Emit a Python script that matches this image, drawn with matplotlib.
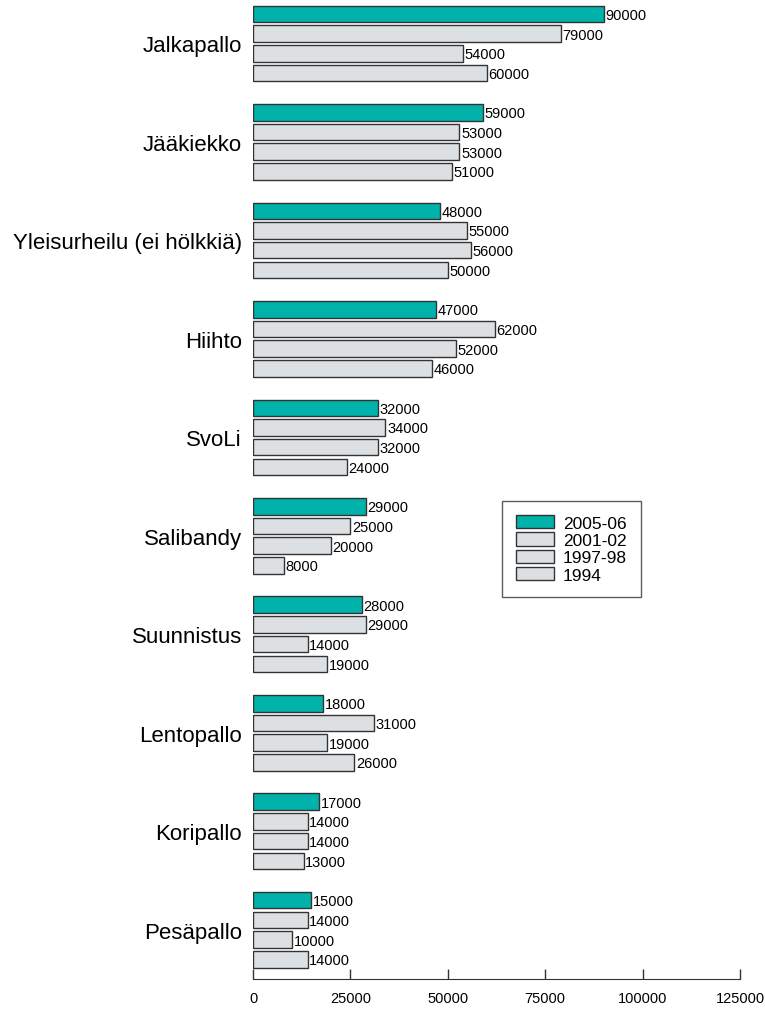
import matplotlib.pyplot as plt
import numpy as np

plt.rcParams['font.family'] = ['Liberation Sans', 'DejaVu Sans']

categories = ['Jalkapallo', 'Jääkiekko', 'Yleisurheilu (ei hölkkiä)', 'Hiihto', 'SvoLi',
              'Salibandy', 'Suunnistus', 'Lentopallo', 'Koripallo', 'Pesäpallo']
series = ['2005-06', '2001-02', '1997-98', '1994']
v2005 = [90000, 59000, 48000, 47000, 32000, 29000, 28000, 18000, 17000, 15000]
v2001 = [79000, 53000, 55000, 62000, 34000, 25000, 29000, 31000, 14000, 14000]
v1997 = [54000, 53000, 56000, 52000, 32000, 20000, 14000, 19000, 14000, 10000]
v1994 = [60000, 51000, 50000, 46000, 24000, 8000, 19000, 26000, 13000, 14000]
values = [v2005, v2001, v1997, v1994]
colors = ['#00b2a9', '#dde0e3', '#dde0e3', '#dde0e3']

fig = plt.figure(figsize=(7.65, 10.12), dpi=100)
ax = fig.add_axes([253 / 765, 1 - 980 / 1012, 487 / 765, 975 / 1012])

base = np.arange(len(categories)) * 5
for i, (s, vals, c) in enumerate(zip(series, values, colors)):
    y = base + i
    ax.barh(y, vals, height=0.84, color=c, edgecolor='#333333', linewidth=1.0, label=s)
    for yy, v in zip(y, vals):
        ax.text(v + 400, yy + 0.05, str(v), va='center', ha='left', fontsize=10.5)

ax.set_xlim(0, 125000)
ax.set_ylim(49.0, -0.5)
ax.set_xticks([0, 25000, 50000, 75000, 100000, 125000])
ax.set_xticklabels(['0', '25000', '50000', '75000', '100000', '125000'], fontsize=10.5)
ax.tick_params(axis='x', direction='in', length=7, width=1, color='#333333', pad=9)
ax.set_yticks(base + 1.5)
ax.set_yticklabels(categories, fontsize=16)
ax.tick_params(axis='y', length=0, pad=8)
for sp in ['top', 'right', 'left']:
    ax.spines[sp].set_visible(False)
ax.spines['bottom'].set_color('#333333')

leg = ax.legend(loc='upper left', bbox_to_anchor=((502 - 253) / 487, 1 - (502 - 5) / 975),
                fontsize=12.5, frameon=True, fancybox=False, edgecolor='#333333',
                handlelength=2.2, handleheight=0.8, labelspacing=0.1, borderpad=0.8,
                handletextpad=0.5, borderaxespad=0)
leg.get_frame().set_linewidth(1.0)

fig.savefig('out.png', dpi=100)
